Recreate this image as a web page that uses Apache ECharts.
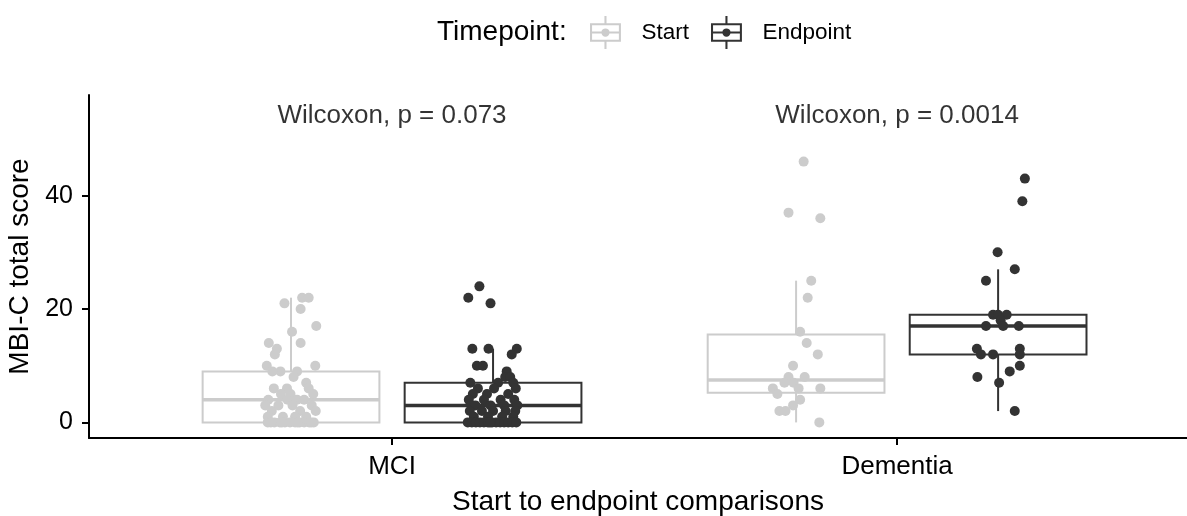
<!DOCTYPE html>
<html>
<head>
<meta charset="utf-8">
<script src="https://cdn.jsdelivr.net/npm/echarts@6/dist/echarts.min.js"></script>
<style>
  html, body { margin: 0; padding: 0; background: #ffffff; }
  #chart { width: 1187px; height: 516px; }
</style>
</head>
<body>
<div id="chart"></div>
<script>
// Groups on the x axis and the two timepoints compared inside each group
const groups = ['MCI', 'Dementia'];
const timepoints = ['Start', 'Endpoint'];

// MBI-C total scores per participant, with each point's horizontal jitter (category units)
const mciStart = [22, 22, 21, 20, 17, 16, 14, 14, 13, 12, 10, 10, 9, 9, 9, 8, 7, 6, 6, 6, 5, 5, 5,
  4, 4, 4, 4, 3, 3, 3, 3, 2, 2, 2, 1, 1, 1, 1, 0, 0, 0, 0, 0, 0, 0, 0, 0, 0, 0, 0, 0, 0];
const mciStartJitter = [0.022, 0.035, -0.013, 0.019, 0.050, 0.002, 0.019, -0.044, -0.028, -0.032, -0.048, 0.048,
  -0.021, 0.012, -0.037, 0.005, 0.030, -0.034, 0.035, -0.008, -0.020, -0.001, 0.044,
  -0.007, 0.012, -0.045, 0.026, -0.025, 0.041, 0.003, -0.051, 0.018, -0.038, 0.049,
  -0.016, 0.030, -0.046, 0.008,
  -0.046, -0.033, -0.022, -0.012, -0.002, 0.008, 0.017, 0.026, 0.036, 0.045, -0.040, -0.018, 0.013, 0.040];

const mciEnd = [24, 22, 21, 13, 13, 13, 12, 10, 10, 9, 8, 8, 7, 7, 7, 6, 6, 6, 5, 5, 5,
  4, 4, 4, 4, 3, 3, 3, 3, 2, 2, 2, 2, 2, 1, 1, 1, 1, 0, 0, 0, 0, 0, 0, 0, 0, 0, 0, 0, 0, 0, 0];
const mciEndJitter = [-0.027, -0.049, -0.005, -0.041, -0.009, 0.047, 0.037, -0.032, -0.020, 0.027, 0.024, 0.034,
  -0.045, 0.010, 0.040, -0.030, 0.002, 0.045, -0.040, -0.012, 0.030,
  -0.048, -0.018, 0.015, 0.042, -0.035, -0.005, 0.022, 0.048, -0.046, -0.022, 0.000, 0.025, 0.044,
  -0.038, -0.010, 0.018, 0.040,
  -0.050, -0.042, -0.034, -0.026, -0.018, -0.010, -0.002, 0.006, 0.014, 0.022, 0.030, 0.038, 0.046, -0.006];

const demStart = [46, 37, 36, 25, 22, 16, 14, 12, 10, 8, 8, 7, 7, 6, 6, 6, 5, 4, 3, 2, 2, 0];
const demStartJitter = [0.015, -0.015, 0.048, 0.030, 0.023, 0.008, 0.021, 0.043, -0.006, -0.015, 0.017,
  -0.023, -0.005, -0.046, 0.005, 0.048, -0.037, 0.008, -0.006, -0.033, -0.021, 0.046];

const demEnd = [43, 39, 30, 27, 25, 19, 19, 19, 18, 17, 17, 17, 13, 12, 13, 12, 12, 10, 9, 8, 7, 2];
const demEndJitter = [0.053, 0.048, -0.001, 0.033, -0.024, -0.010, 0.000, 0.017, 0.005, -0.024, 0.010, 0.041,
  -0.042, -0.034, 0.043, 0.043, -0.010, 0.043, 0.023, -0.041, 0.002, 0.033];

// Paired Wilcoxon test results shown above each group
const pValueLabels = ['Wilcoxon, p = 0.073', 'Wilcoxon, p = 0.0014'];
const pLabelY = 54;

// Tick labels
const yTicks = [0, 20, 40];

const samples = {
  MCI: { Start: [mciStart, mciStartJitter], Endpoint: [mciEnd, mciEndJitter] },
  Dementia: { Start: [demStart, demStartJitter], Endpoint: [demEnd, demEndJitter] }
};

const colors = { Start: '#CCCCCC', Endpoint: '#333333' };
const dodge = { Start: -0.2, Endpoint: 0.2 };
const boxWidth = 0.35;
const FONT = '"Liberation Sans", Arial, Helvetica, sans-serif';

// Quantiles (linear interpolation, same as R type 7) and Tukey whiskers
function quantile(sorted, p) {
  const h = (sorted.length - 1) * p;
  const lo = Math.floor(h), hi = Math.ceil(h);
  return sorted[lo] + (h - lo) * (sorted[hi] - sorted[lo]);
}
function boxStats(values) {
  const s = values.slice().sort((a, b) => a - b);
  const q1 = quantile(s, 0.25), med = quantile(s, 0.5), q3 = quantile(s, 0.75);
  const iqr = q3 - q1;
  const low = s.find(v => v >= q1 - 1.5 * iqr);
  const high = s.slice().reverse().find(v => v <= q3 + 1.5 * iqr);
  return [low, q1, med, q3, high];
}

// Legend key: box outline with median bar, whiskers and a point
const keyIcon = 'path://M1,7H31V25H1Z M3,9V23H29V9Z M3,15H29V17H3Z M15,0H17V7H15Z M15,25H17V32H15Z ' +
  'M12,16A4,4 0 1,1 20,16A4,4 0 1,1 12,16Z';

const boxSeries = timepoints.map(tp => ({
  type: 'custom',
  name: tp,
  z: 2,
  silent: true,
  itemStyle: { color: colors[tp] },
  encode: { x: 0, y: [1, 2, 3, 4, 5] },
  data: groups.map((g, gi) => [gi + 1 + dodge[tp]].concat(boxStats(samples[g][tp][0]))),
  renderItem: (params, api) => {
    const x = api.value(0);
    const [yLo, yQ1, yMed, yQ3, yHi] = [1, 2, 3, 4, 5].map(i => api.coord([x, api.value(i)])[1]);
    const cx = api.coord([x, 0])[0];
    const xl = api.coord([x - boxWidth / 2, 0])[0];
    const xr = api.coord([x + boxWidth / 2, 0])[0];
    const stroke = colors[tp];
    return {
      type: 'group',
      children: [
        { type: 'line', shape: { x1: cx, y1: yHi, x2: cx, y2: yQ3 }, style: { stroke, lineWidth: 2 } },
        { type: 'line', shape: { x1: cx, y1: yQ1, x2: cx, y2: yLo }, style: { stroke, lineWidth: 2 } },
        { type: 'rect', shape: { x: xl, y: yQ3, width: xr - xl, height: yQ1 - yQ3 },
          style: { fill: '#ffffff', stroke, lineWidth: 2 } },
        { type: 'line', shape: { x1: xl, y1: yMed, x2: xr, y2: yMed }, style: { stroke, lineWidth: 3.5 } }
      ]
    };
  }
}));

const pointSeries = timepoints.map(tp => ({
  type: 'scatter',
  name: tp,
  z: 3,
  silent: true,
  symbolSize: 10,
  itemStyle: { color: colors[tp], opacity: 1 },
  data: groups.flatMap((g, gi) => {
    const [vals, jit] = samples[g][tp];
    return vals.map((v, i) => [gi + 1 + dodge[tp] + jit[i], v]);
  })
}));

const pValueSeries = {
  type: 'scatter',
  name: 'p-values',
  z: 4,
  silent: true,
  symbolSize: 0,
  itemStyle: { color: 'rgba(0,0,0,0)' },
  label: {
    show: true,
    position: 'inside',
    formatter: p => p.name,
    fontFamily: FONT,
    fontSize: 26,
    color: '#000000'
  },
  data: groups.map((g, gi) => ({ name: pValueLabels[gi], value: [gi + 1, pLabelY] }))
};

const chart = echarts.init(document.getElementById('chart'), null, { renderer: 'canvas' });
chart.setOption({
  animation: false,
  backgroundColor: '#ffffff',
  textStyle: { fontFamily: FONT },
  title: {
    text: 'Timepoint:',
    left: 437,
    top: 18,
    padding: 0,
    textStyle: { fontFamily: FONT, fontSize: 28, fontWeight: 'normal', color: '#000000' }
  },
  legend: {
    left: 590,
    top: 16,
    padding: 0,
    itemWidth: 34,
    itemHeight: 33,
    itemGap: 22,
    selectedMode: false,
    textStyle: { fontFamily: FONT, fontSize: 22.5, color: '#000000', padding: [0, 0, 0, 14] },
    data: timepoints.map(tp => ({ name: tp, icon: keyIcon, itemStyle: { color: colors[tp], borderWidth: 0 } }))
  },
  grid: { left: 89, right: 0, top: 95, bottom: 78, outerBoundsMode: 'none' },
  xAxis: {
    type: 'value',
    min: 0.4,
    max: 2.574,
    splitLine: { show: false },
    axisLine: { show: true, onZero: false, lineStyle: { color: '#000000', width: 2 } },
    axisTick: { show: true, customValues: [1, 2], length: 7, lineStyle: { color: '#000000', width: 2 } },
    axisLabel: {
      customValues: [1, 2],
      formatter: v => groups[Math.round(v) - 1],
      fontFamily: FONT, fontSize: 26, color: '#000000', margin: 16
    },
    name: 'Start to endpoint comparisons',
    nameLocation: 'middle',
    nameGap: 50,
    nameTextStyle: { fontFamily: FONT, fontSize: 28, color: '#000000' }
  },
  yAxis: {
    type: 'value',
    min: -2.75,
    max: 57.75,
    splitLine: { show: false },
    axisLine: { show: true, onZero: false, lineStyle: { color: '#000000', width: 2 } },
    axisTick: { show: true, customValues: yTicks, length: 7, lineStyle: { color: '#000000', width: 2 } },
    axisLabel: { customValues: yTicks, fontFamily: FONT, fontSize: 25, color: '#000000', margin: 16 },
    name: 'MBI-C total score',
    nameLocation: 'middle',
    nameGap: 49,
    nameTextStyle: { fontFamily: FONT, fontSize: 28, color: '#000000' }
  },
  series: [...boxSeries, ...pointSeries, pValueSeries]
});
</script>
</body>
</html>
